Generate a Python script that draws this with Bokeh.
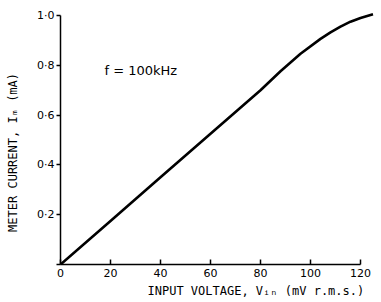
from bokeh.plotting import figure
from bokeh.models import Range1d, FixedTicker, CustomJSTickFormatter, Label, Title
from bokeh.embed import file_html
from bokeh.resources import INLINE

# data
v_in = [0, 20, 40, 60, 80, 88, 96, 104, 108, 112, 116, 120, 125]
i_m = [0, 0.175, 0.35, 0.525, 0.70, 0.776, 0.846, 0.906, 0.932, 0.955, 0.975, 0.99, 1.005]
x_ticks = [0, 20, 40, 60, 80, 100, 120]
y_ticks = [0, 0.2, 0.4, 0.6, 0.8, 1.0]

FONT = "DejaVu Sans"
LFONT = "DejaVu Sans Mono"

p = figure(width=378, height=300, output_backend="svg", toolbar_location=None,
           x_range=Range1d(0, 126), y_range=Range1d(0, 1.016),
           min_border_left=60, min_border_right=3, min_border_top=11, min_border_bottom=35)
p.outline_line_color = None
p.grid.visible = False
p.background_fill_color = "white"

p.line(v_in, i_m, line_color="black", line_width=2.6)

xa = p.xaxis[0]
xa.ticker = FixedTicker(ticks=x_ticks)
xa.bounds = (0, 120)
xa.major_tick_in = 5
xa.major_tick_out = 0
xa.minor_tick_line_color = None
xa.axis_line_width = 1.5
xa.axis_line_color = "black"
xa.major_tick_line_color = "black"
xa.major_tick_line_width = 1.5
xa.major_label_standoff = 4
xa.major_label_text_font = FONT
xa.major_label_text_font_size = "11px"
xa.major_label_text_color = "black"

ya = p.yaxis[0]
ya.ticker = FixedTicker(ticks=y_ticks)
ya.bounds = (0, 1)
ya.major_tick_in = 0
ya.major_tick_out = 4
ya.minor_tick_line_color = None
ya.axis_line_width = 1.5
ya.axis_line_color = "black"
ya.major_tick_line_color = "black"
ya.major_tick_line_width = 1.5
ya.major_label_standoff = 2
ya.major_label_text_font = FONT
ya.major_label_text_font_size = "11px"
ya.major_label_text_color = "black"
ya.formatter = CustomJSTickFormatter(code="""
    if (Math.abs(tick) < 1e-9) { return ""; }
    return tick.toFixed(1).replace(".", "\u00b7");
""")
ya.axis_label = "METER CURRENT, I\u2098 (mA)" + "\u00a0" * 4
ya.axis_label_text_font = LFONT
ya.axis_label_text_font_size = "12px"
ya.axis_label_text_font_style = "normal"
ya.axis_label_text_color = "black"
ya.axis_label_standoff = 14

p.add_layout(Title(text="INPUT VOLTAGE, V\u1d62\u2099 (mV r.m.s.)", align="left", offset=87,
                   text_font=LFONT, text_font_size="12px", text_font_style="normal",
                   text_color="black", standoff=5), "below")

p.add_layout(Label(x=17.6, y=0.78, text="f = 100kHz", text_font=FONT,
                   text_font_size="13px", text_baseline="middle", text_color="black"))

open("out.html", "w").write(file_html(p, INLINE))
